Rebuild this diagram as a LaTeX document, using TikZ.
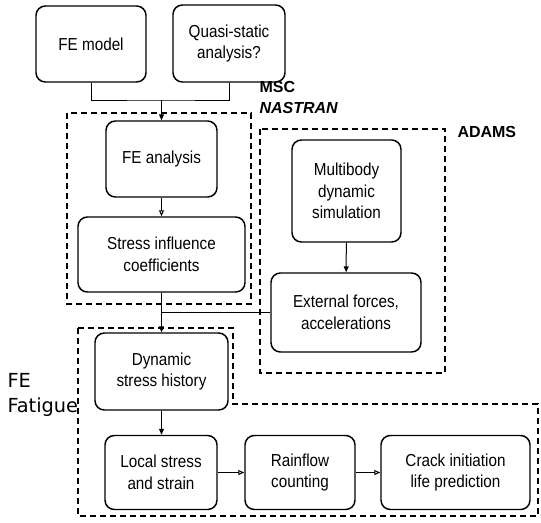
\documentclass[tikz,border=0pt]{standalone}
\usepackage{fontspec}
\setmainfont{Liberation Sans}
\newfontfamily\boxfont{Liberation Sans}[FakeStretch=0.88]
\newfontfamily\fatiguefont{DejaVu Sans}
\usetikzlibrary{arrows.meta}

\tikzset{every picture/.style={line width=0.75pt}}
\tikzset{
  stage/.style={draw, rounded corners=7pt, line width=1.1pt, align=center, inner sep=2pt,
    font=\boxfont\fontsize{13}{16.3}\selectfont},
  region/.style={line width=1.5pt, dash pattern=on 4.5pt off 3pt},
  flow/.style={-{Triangle[length=4.5pt,width=3.75pt]}},
  flowopen/.style={-{Triangle[open,length=4.5pt,width=3.75pt]}},
  tool/.style={anchor=base west, inner sep=0pt, font=\fontsize{12}{14}\selectfont\bfseries},
  sidelabel/.style={anchor=base west, inner sep=0pt, font=\fatiguefont\fontsize{14.5}{17}\selectfont},
}

\begin{document}
\begin{tikzpicture}[x=0.75pt,y=0.75pt,yscale=-1,xscale=1]
\path[use as bounding box] (0,0) rectangle (541,522);

%Dashed regions
\draw [region] (67,113) rectangle (251,304) ;
\draw [region] (260,129) rectangle (445,373) ;
\draw [region] (78,328) -- (233,328) -- (233,404) -- (538,404) -- (538,516) -- (78,516) -- cycle ;

%Boxes
\node [stage, minimum width=82.5pt, minimum height=57pt] (femodel) at (91,44) {FE model};
\node [stage, minimum width=84pt, minimum height=57.75pt] (quasi) at (229,43.5) {Quasi-static\\analysis?};
\node [stage, minimum width=83.25pt, minimum height=57pt] (feanalysis) at (161.5,159) {FE analysis};
\node [stage, minimum width=125.25pt, minimum height=56.25pt] (stressinf) at (161.5,254.5) {Stress influence\\coefficients};
\node [stage, minimum width=81.75pt, minimum height=76.5pt] (multibody) at (346.5,191) {Multibody\\dynamic\\simulation};
\node [stage, minimum width=112.5pt, minimum height=59.25pt] (external) at (346,312.5) {External forces,\\accelerations};
\node [stage, minimum width=99.75pt, minimum height=57.75pt] (dynamic) at (161.5,371.5) {Dynamic\\stress history};
\node [stage, minimum width=84pt, minimum height=55.5pt] (local) at (161,472.5) {Local stress\\and strain};
\node [stage, minimum width=82.5pt, minimum height=55.5pt] (rainflow) at (300,472.5) {Rainflow\\counting};
\node [stage, minimum width=111.75pt, minimum height=55.5pt] (crack) at (455.5,472.5) {Crack initiation\\life prediction};

%Labels
\node [tool] (msc) at (259,92) {MSC};
\node [tool] (nastran) at (259,113) {\itshape NASTRAN};
\node [tool] (adams) at (457,137) {ADAMS};
\node [sidelabel] (fe) at (7,387) {FE};
\node [sidelabel] (fatigue) at (7,412) {Fatigue};

%Connectors
\coordinate (topjoin) at (161.5,100);
\draw (femodel.south) |- (topjoin) -| (quasi.south) ;
\draw [flow] (topjoin) -- (feanalysis.north) ;
\draw [flowopen] (feanalysis) -- (stressinf) ;
\draw [flow] (stressinf) -- (dynamic) ;
\draw (external.west) -- (external.west -| stressinf.south) ;
\draw [flow] (multibody) -- (external) ;
\draw [flow] (dynamic.south) -- (dynamic.south |- local.north) ;
\draw [flowopen] (local) -- (rainflow) ;
\draw [flowopen] (rainflow) -- (crack) ;

\end{tikzpicture}
\end{document}
